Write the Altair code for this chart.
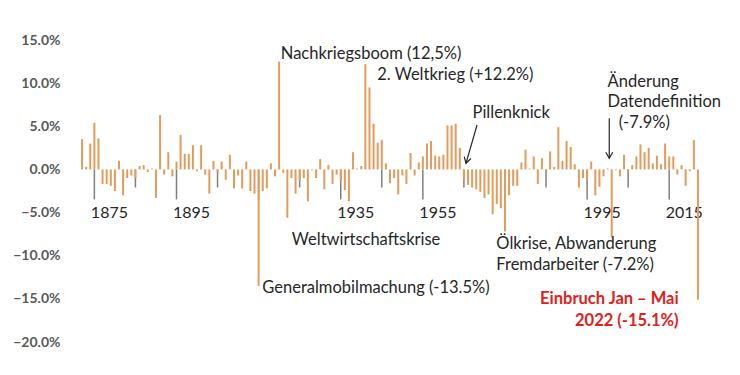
import altair as alt
import pandas as pd

# ---- data -------------------------------------------------------------
years = list(range(1872, 2023))
change_pct = [
    # 1872-1879
    3.5, 0.3, 3.0, 5.4, 3.6, -1.7, -1.7, -1.9,
    # 1880-1889
    -2.5, 1.0, -3.0, -1.0, -0.7, -1.0, 0.4, 0.5, -0.3, 0.1,
    # 1890-1899
    -3.3, 6.3, -0.6, 2.0, -0.8, 0.9, 4.0, 1.8, 1.8, 2.8,
    # 1900-1909
    -0.2, 2.8, -0.6, -2.8, 1.0, -0.3, 0.9, -1.2, 1.7, -2.2,
    # 1910-1919
    -0.7, -2.2, 0.9, -2.5, -2.8, -13.5, -2.5, -2.2, 0.7, -0.8,
    # 1920-1929
    12.5, -0.4, -5.6, -1.0, -2.8, -1.3, -1.0, -3.7, -0.1, -1.0,
    # 1930-1939
    1.2, -2.3, 0.5, -1.7, -0.6, -1.3, -2.4, -3.7, 2.0, 0.1,
    # 1940-1949
    0.4, 12.2, 9.5, 5.3, 3.1, 3.4, 0.7, -1.6, -1.0, -2.9,
    # 1950-1959
    -0.7, -1.7, 1.9, -0.7, 0.8, 1.5, 3.0, 3.3, 1.6, 1.5,
    # 1960-1969
    1.7, 5.1, 5.1, 5.3, 2.5, -1.2, -1.8, -2.1, -2.3, -2.6,
    # 1970-1979
    -3.3, -2.9, -5.2, -4.0, -4.5, -7.2, -3.0, -1.9, -1.9, 0.8,
    # 1980-1989
    2.3, 0.1, 1.5, -1.7, 1.3, -0.2, 2.1, 0.3, 4.9, 1.0,
    # 1990-1999
    3.3, 2.6, 0.6, -2.1, -1.0, -1.1, 0.9, -3.0, -2.0, -0.8,
    # 2000-2009
    0.1, -7.9, -0.1, -0.8, 1.7, -0.2, 0.5, 1.5, 2.9, 2.0,
    # 2010-2019
    2.5, 0.7, 1.6, 0.6, 3.0, 1.5, 1.5, -0.6, 0.5, -1.9,
    # 2020-2022
    -0.2, 3.4, -15.1,
]

major_tick_years = list(range(1875, 2016, 20))
minor_tick_years = list(range(1885, 2016, 20))
labelled_years = [1875, 1895, 1935, 1955, 1995, 2015]
y_ticks = [-0.20, -0.15, -0.10, -0.05, 0.0, 0.05, 0.10, 0.15]

ann_text = [
    "Nachkriegsboom (12,5%)",
    "2. Weltkrieg (+12.2%)",
    "Pillenknick",
    "Änderung",
    "Datendefinition",
    "(-7.9%)",
    "Weltwirtschaftskrise",
    "Ölkrise, Abwanderung",
    "Fremdarbeiter (-7.2%)",
    "Generalmobilmachung (-13.5%)",
]
ann_year = [1920.4, 1943.9, 1967.1, 2000.0, 2000.0, 2002.7, 1923.1, 1972.9, 1972.9, 1915.9]
ann_pct = [13.4, 10.94, 6.5, 10.17, 7.85, 5.35, -8.2, -8.6, -11.07, -13.7]

red_text = ["Einbruch Jan – Mai", "2022 (-15.1%)"]
red_year = [2017.3, 2017.3]
red_pct = [-15.0, -17.6]

arrow_year = [1968.2, 2000.4]
arrow_pct = [5.15, 5.93]
arrow_year2 = [1965.5, 2000.4]
arrow_pct2 = [0.71, 1.29]
arrow_angle = [16, 0]

# ---- tables -----------------------------------------------------------
bars = pd.DataFrame({"year": years, "change": [v / 100 for v in change_pct]})
major_ticks = pd.DataFrame({"year": major_tick_years})
minor_ticks = pd.DataFrame({"year": minor_tick_years})
ann = pd.DataFrame({"text": ann_text, "year": ann_year, "val": [v / 100 for v in ann_pct]})
red = pd.DataFrame({"text": red_text, "year": red_year, "val": [v / 100 for v in red_pct]})
arrows = pd.DataFrame({
    "year": arrow_year, "val": [v / 100 for v in arrow_pct],
    "year2": arrow_year2, "val2": [v / 100 for v in arrow_pct2],
    "angle": arrow_angle,
})

W, H = 630, 302
FONT = "Lato"
x_scale = alt.Scale(domain=[1871.5, 2022.5], nice=False, zero=False)
y_scale = alt.Scale(domain=[-0.20, 0.15], nice=False)

label_test = "indexof(" + str(labelled_years) + ", datum.value) >= 0"

x_axis = alt.Axis(
    orient="bottom",
    values=major_tick_years,
    format="d",
    offset=-(H * 20 / 35),
    domain=False,
    grid=False,
    ticks=False,
    labelExpr="(" + label_test + ") ? datum.label : ''",
    labelAlign="left",
    labelOffset=-4,
    labelPadding=35,
    labelFont=FONT,
    labelFontSize=16,
    labelColor="#262626",
    title=None,
)

y_axis = alt.Axis(
    values=y_ticks,
    format=".1%",
    domain=False,
    ticks=False,
    gridColor="#d9d9d9",
    gridWidth=1,
    labelPadding=15,
    labelFont=FONT,
    labelFontSize=14,
    labelFontWeight="bold",
    labelColor="#595959",
    title=None,
)

major_tick_layer = alt.Chart(major_ticks).mark_tick(
    orient="vertical", size=30, yOffset=15, thickness=1.5, color="#7f7f7f", opacity=1
).encode(
    x=alt.X("year:Q", scale=x_scale, axis=x_axis),
    y=alt.datum(0, scale=y_scale, axis=y_axis),
)

minor_tick_layer = alt.Chart(minor_ticks).mark_tick(
    orient="vertical", size=18, yOffset=9, thickness=1.5, color="#7f7f7f", opacity=1
).encode(
    x=alt.X("year:Q", scale=x_scale),
    y=alt.datum(0, scale=y_scale),
)

bar_layer = alt.Chart(bars).mark_bar(size=2, color="#E39B5B").encode(
    x=alt.X("year:Q", scale=x_scale),
    y=alt.Y("change:Q", scale=y_scale),
)

text_layer = alt.Chart(ann).mark_text(
    align="left", baseline="middle", font=FONT, fontSize=16.5, color="#262626"
).encode(
    x=alt.X("year:Q", scale=x_scale),
    y=alt.Y("val:Q", scale=y_scale),
    text="text:N",
)

red_layer = alt.Chart(red).mark_text(
    align="right", baseline="middle", font=FONT, fontSize=16.5, fontWeight="bold", color="#E0201B"
).encode(
    x=alt.X("year:Q", scale=x_scale),
    y=alt.Y("val:Q", scale=y_scale),
    text="text:N",
)

arrow_line = alt.Chart(arrows).mark_rule(color="#262626", strokeWidth=1.2).encode(
    x=alt.X("year:Q", scale=x_scale),
    y=alt.Y("val:Q", scale=y_scale),
    x2="year2:Q",
    y2="val2:Q",
)

arrow_head = alt.Chart(arrows).mark_point(
    shape="M-0.7,-1.2L0,0L0.7,-1.2", filled=False, color="#262626", strokeWidth=1.2, size=100, opacity=1
).encode(
    x=alt.X("year2:Q", scale=x_scale),
    y=alt.Y("val2:Q", scale=y_scale),
    angle=alt.Angle("angle:Q", scale=None),
)

chart = alt.layer(
    major_tick_layer, minor_tick_layer, bar_layer, text_layer, red_layer, arrow_line, arrow_head
).properties(
    width=W,
    height=H,
    autosize=alt.AutoSizeParams(type="none"),
    padding={"left": 67, "top": 32, "right": 19, "bottom": 25},
    background="white",
).configure_view(stroke=None)

chart.save("out.html", embed_options={"renderer": "svg", "actions": False})
